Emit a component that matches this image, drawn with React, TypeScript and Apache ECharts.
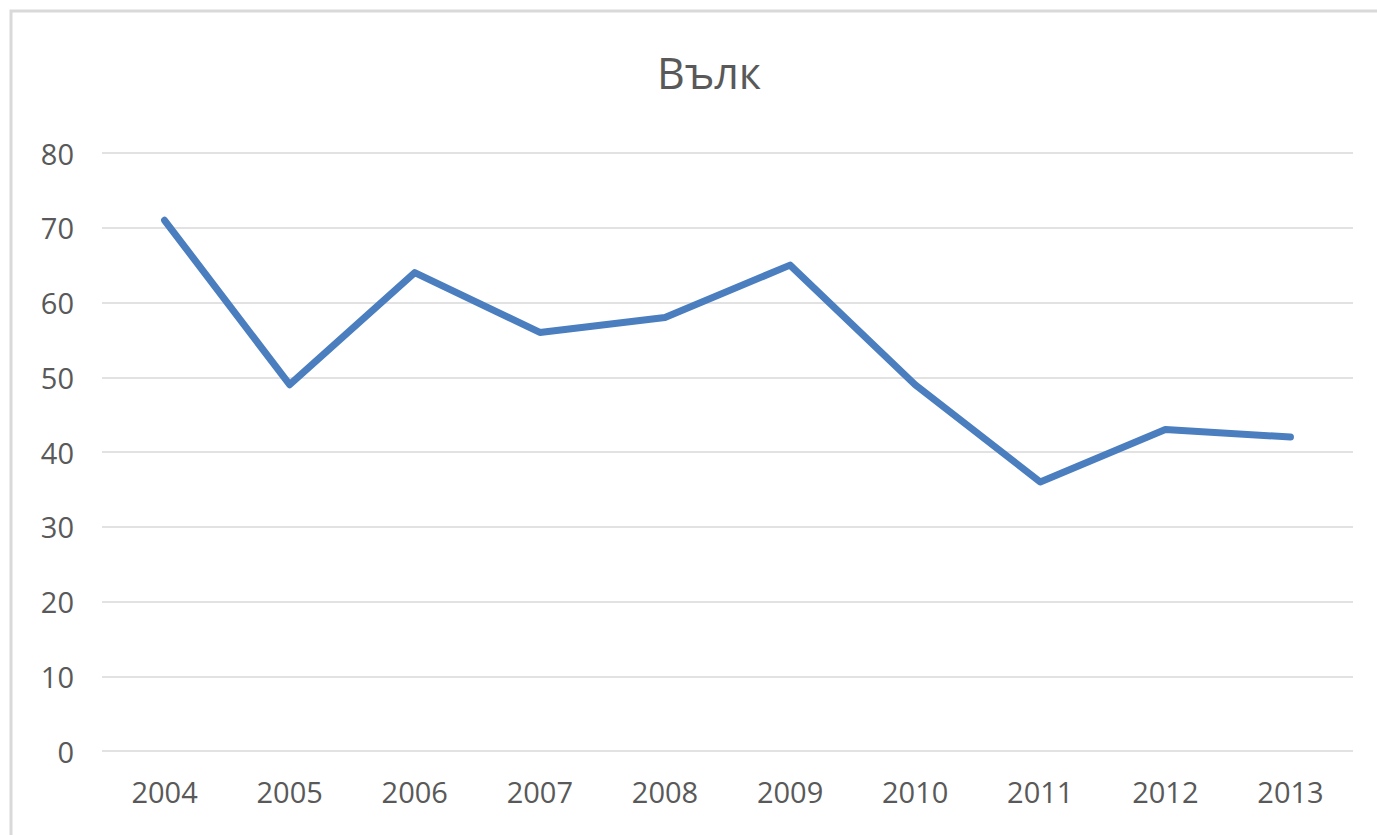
import React, { useEffect, useRef } from "react";
import * as echarts from "echarts";

const years = ["2004", "2005", "2006", "2007", "2008", "2009", "2010", "2011", "2012", "2013"];
const wolfValues = [71, 49, 64, 56, 58, 65, 49, 36, 43, 42];
const chartTitle = "Вълк";

export default function App() {
  const ref = useRef<HTMLDivElement>(null);
  useEffect(() => {
    document.body.style.margin = "0";
    const chart = echarts.init(ref.current!, null, { renderer: "svg" });
    chart.setOption({
      animation: false,
      backgroundColor: "#ffffff",
      title: {
        text: chartTitle,
        left: 704,
        textAlign: "center",
        top: 46,
        textStyle: { color: "#595959", fontSize: 43, fontWeight: "normal", fontFamily: "Open Sans" },
      },
      graphic: [
        {
          type: "rect",
          shape: { x: 11, y: 11, width: 1420, height: 900 },
          style: { fill: "none", stroke: "#d9d9d9", lineWidth: 3 },
          silent: true,
        },
      ],
      grid: { left: 102, right: 24, top: 153, bottom: 84, containLabel: false },
      xAxis: {
        type: "category",
        data: years,
        boundaryGap: true,
        axisLine: { show: false },
        axisTick: { show: false },
        axisLabel: { color: "#595959", fontSize: 29, fontFamily: "Open Sans", margin: 26 },
      },
      yAxis: {
        type: "value",
        min: 0,
        max: 80,
        interval: 10,
        axisLine: { show: false },
        axisTick: { show: false },
        splitLine: { lineStyle: { color: "#d9d9d9", width: 1.5 } },
        axisLabel: { color: "#595959", fontSize: 29, fontFamily: "Open Sans", margin: 28 },
      },
      series: [
        {
          type: "line",
          data: wolfValues,
          showSymbol: false,
          symbol: "none",
          lineStyle: { color: "#4a7ebf", width: 7, cap: "round", join: "round" },
        },
      ],
    });
    return () => chart.dispose();
  }, []);
  return <div ref={ref} style={{ position: "fixed", left: 0, top: 0, width: 1377, height: 835 }} />;
}
